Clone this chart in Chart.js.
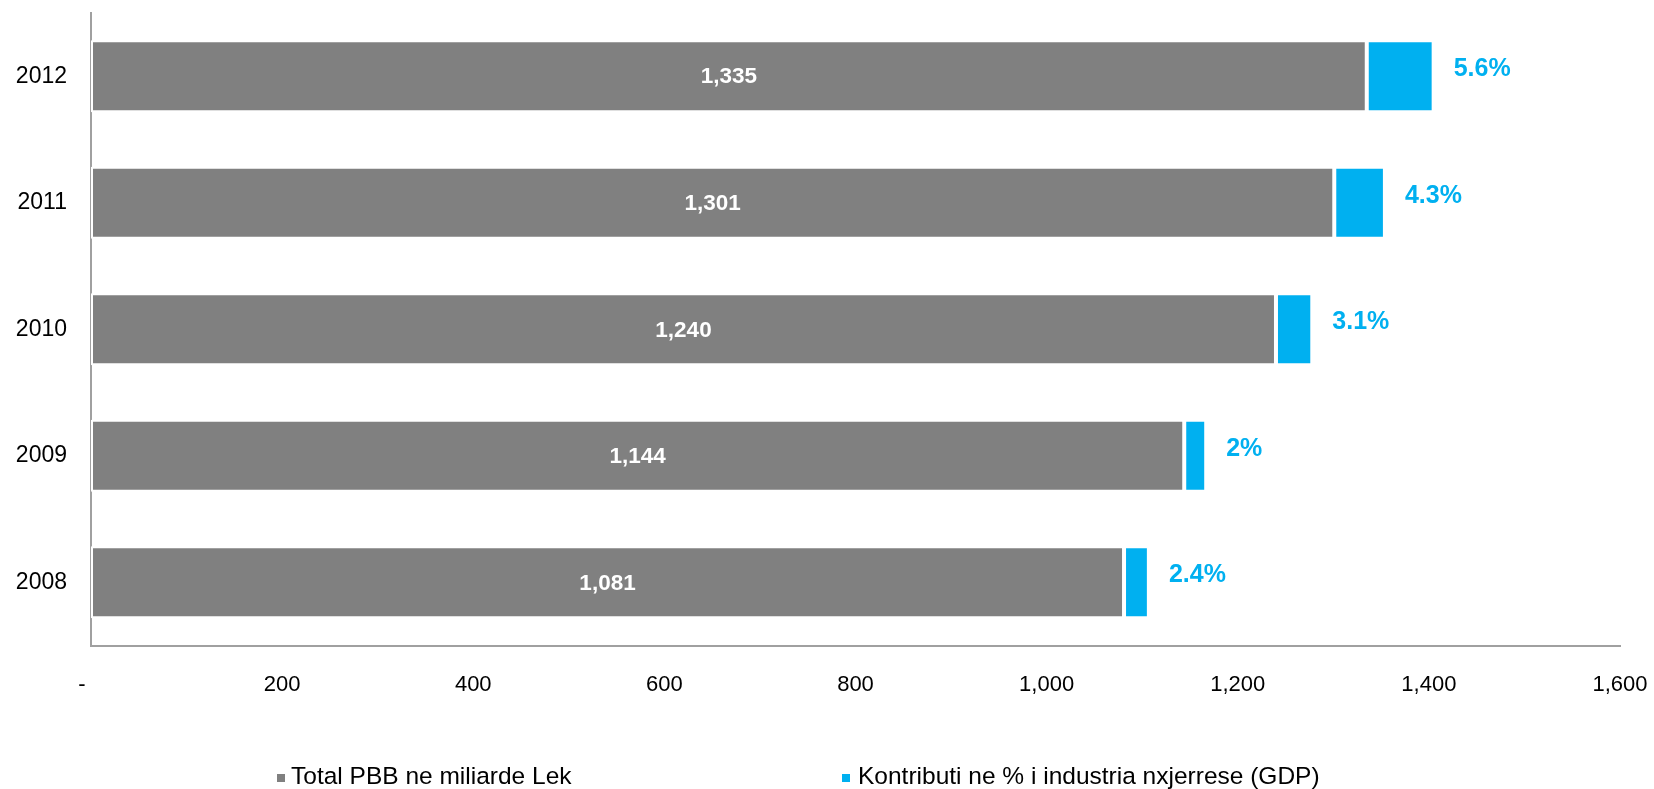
<!DOCTYPE html>
<html>
<head>
<meta charset="utf-8">
<script src="https://cdn.jsdelivr.net/npm/chart.js@4.4.1/dist/chart.umd.min.js"></script>
<style>
  html, body { margin: 0; padding: 0; background: #fff; }
  #wrap { width: 1654px; height: 789px; position: relative; }
</style>
</head>
<body>
<div id="wrap"><canvas id="c" width="1654" height="789"></canvas></div>
<script>
// ---- Data ----
const years = ['2008', '2009', '2010', '2011', '2012'];
const gdpTotal = [1081, 1144, 1240, 1301, 1335];          // Total PBB ne miliarde Lek
const contributionBar = [26, 23, 38, 53, 70];              // bar length of the contribution segment
const contributionPct = [2.4, 2, 3.1, 4.3, 5.6];           // labels shown (%)
const seriesNames = ['Total PBB ne miliarde Lek', 'Kontributi ne % i industria nxjerrese (GDP)'];
const seriesColors = ['#808080', '#00B0F0'];

const FONT = "'Liberation Sans', Arial, sans-serif";

const labelPlugin = {
  id: 'barLabels',
  afterDatasetsDraw(chart) {
    const ctx = chart.ctx;
    ctx.save();
    chart.getDatasetMeta(0).data.forEach((bar, i) => {
      ctx.font = 'bold 22.5px ' + FONT;
      ctx.fillStyle = '#ffffff';
      ctx.textAlign = 'center';
      ctx.textBaseline = 'middle';
      ctx.fillText(gdpTotal[i].toLocaleString('en-US'), (bar.x + bar.base) / 2, bar.y + 1);
    });
    chart.getDatasetMeta(1).data.forEach((bar, i) => {
      ctx.font = 'bold 25px ' + FONT;
      ctx.fillStyle = seriesColors[1];
      ctx.textAlign = 'left';
      ctx.textBaseline = 'middle';
      ctx.fillText(contributionPct[i] + '%', bar.x + 20, bar.y - 7);
    });
    ctx.restore();
  }
};

const legendPlugin = {
  id: 'customLegend',
  afterDraw(chart, args, opts) {
    const ctx = chart.ctx;
    ctx.save();
    ctx.font = '24.5px ' + FONT;
    ctx.textBaseline = 'middle';
    ctx.textAlign = 'left';
    opts.items.forEach((it, i) => {
      ctx.fillStyle = seriesColors[i];
      ctx.fillRect(it.box, opts.y - 4, 8, 8);
      ctx.fillStyle = '#000';
      ctx.fillText(seriesNames[i], it.text, opts.y - 1);
    });
    ctx.restore();
  }
};

const noOverflow = (s) => {
  s.paddingTop = 0; s.paddingBottom = 0; s.paddingLeft = 0; s.paddingRight = 0;
};

new Chart(document.getElementById('c'), {
  type: 'bar',
  data: {
    labels: years,
    datasets: [
      {
        label: seriesNames[0],
        data: gdpTotal,
        backgroundColor: seriesColors[0],
        borderColor: '#ffffff',
        borderWidth: 2,
        borderSkipped: false
      },
      {
        label: seriesNames[1],
        data: contributionBar,
        backgroundColor: seriesColors[1],
        borderColor: '#ffffff',
        borderWidth: 2,
        borderSkipped: false
      }
    ]
  },
  options: {
    indexAxis: 'y',
    responsive: false,
    animation: false,
    devicePixelRatio: 1,
    barPercentage: 0.569,
    categoryPercentage: 1,
    layout: { autoPadding: false, padding: { top: 13, left: 0, right: 34, bottom: 65 } },
    plugins: {
      legend: { display: false },
      tooltip: { enabled: false },
      customLegend: {
        y: 778,
        items: [{ box: 277, text: 291 }, { box: 842, text: 858 }]
      }
    },
    scales: {
      x: {
        stacked: true,
        min: 0,
        max: 1600,
        ticks: {
          stepSize: 200,
          padding: 26,
          color: '#000',
          font: { family: FONT, size: 22 },
          callback: (v) => v === 0 ? '-   ' : Number(v).toLocaleString('en-US')
        },
        grid: { display: false, drawTicks: false },
        border: { display: true, color: '#A0A0A0', width: 2 },
        afterFit: noOverflow
      },
      y: {
        stacked: true,
        reverse: true,
        ticks: {
          padding: 24,
          color: '#000',
          font: { family: FONT, size: 23 }
        },
        grid: { display: false, drawTicks: false },
        border: { display: true, color: '#A0A0A0', width: 2 },
        afterFit: (s) => { s.width = 91; noOverflow(s); }
      }
    }
  },
  plugins: [labelPlugin, legendPlugin]
});
</script>
</body>
</html>
